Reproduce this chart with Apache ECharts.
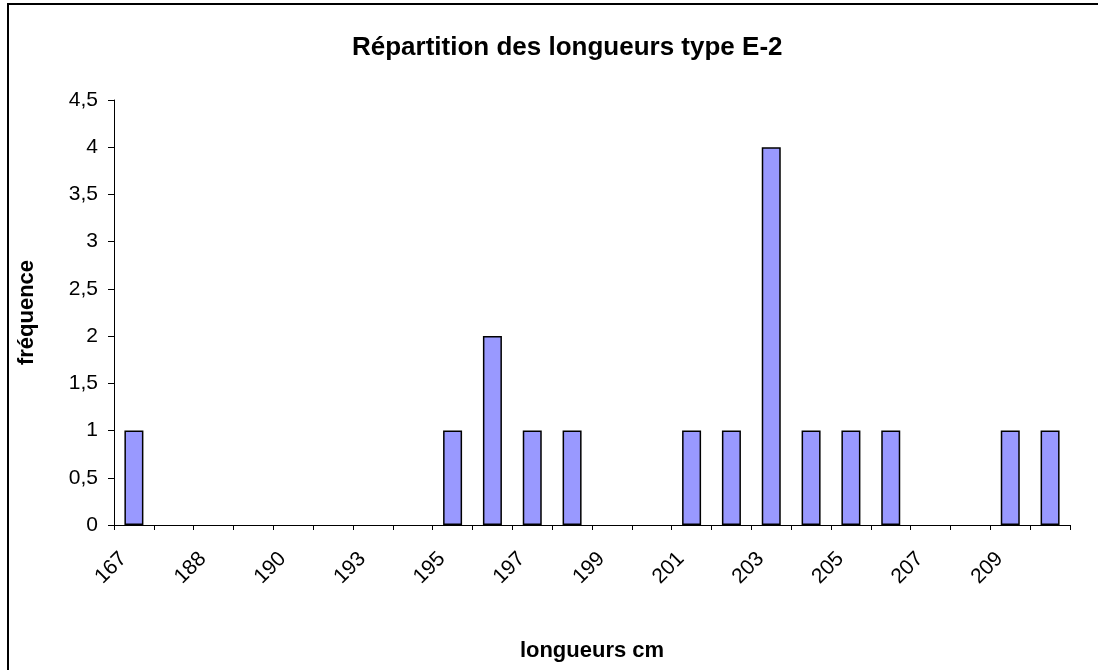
<!DOCTYPE html>
<html>
<head>
<meta charset="utf-8">
<script src="https://cdn.jsdelivr.net/npm/echarts@6/dist/echarts.min.js"></script>
<style>
  html, body { margin: 0; padding: 0; background: #fff; }
  #main { width: 1098px; height: 670px; }
</style>
</head>
<body>
<div id="main"></div>
<script>
// longueurs (cm) et fréquences
var longueurs = ["167", "187", "188", "189", "190", "192", "193", "194",
  "195", "196", "197", "198", "199", "200", "201", "202",
  "203", "204", "205", "206", "207", "208", "209", "210"];
var frequences = [1, 0, 0, 0, 0, 0, 0, 0,
  1, 2, 1, 1, 0, 0, 1, 1,
  4, 1, 1, 1, 0, 0, 1, 1];
var yTicks = { min: 0, max: 4.5, step: 0.5 };

var myChart = echarts.init(document.getElementById("main"), null, { renderer: "canvas" });
var police = "Arial, 'Liberation Sans', sans-serif";

// les zéros ne dessinent pas de barre (pas de trait sur l'axe)
var barData = frequences.map(function (v) { return v === 0 ? "-" : v; });

var option = {
  animation: false,
  title: {
    text: "Répartition des longueurs type E-2",
    left: 347,
    top: 30,
    textStyle: { fontFamily: police, fontSize: 26, fontWeight: "bold", color: "#000" },
  },
  graphic: [
    {
      type: "rect",
      shape: { x: 8, y: 4, width: 1200, height: 800 },
      style: { fill: "none", stroke: "#000", lineWidth: 2 },
    },
  ],
  grid: { left: 114, right: 28, top: 100, bottom: 145, containLabel: false },
  xAxis: {
    type: "category",
    data: longueurs,
    name: "longueurs cm",
    nameLocation: "middle",
    nameGap: 115,
    nameTextStyle: { fontFamily: police, fontSize: 22, fontWeight: "bold", color: "#000" },
    axisLine: { lineStyle: { color: "#000", width: 1 } },
    axisTick: { show: true, interval: 0, length: 5, alignWithLabel: false, lineStyle: { color: "#000" } },
    axisLabel: {
      interval: 1,
      rotate: 45,
      margin: 20,
      padding: [0, 15, 0, 0],
      fontFamily: police,
      fontSize: 21,
      color: "#000",
    },
    splitLine: { show: false },
  },
  yAxis: {
    type: "value",
    min: yTicks.min,
    max: yTicks.max,
    interval: yTicks.step,
    name: "fréquence",
    nameLocation: "middle",
    nameGap: 76,
    nameTextStyle: { fontFamily: police, fontSize: 22, fontWeight: "bold", color: "#000" },
    axisLine: { show: true, lineStyle: { color: "#000", width: 1 } },
    axisTick: { show: true, length: 6, lineStyle: { color: "#000" } },
    axisLabel: {
      margin: 16,
      fontFamily: police,
      fontSize: 21,
      color: "#000",
      formatter: function (v) { return String(v).replace(".", ","); },
    },
    splitLine: { show: false },
  },
  series: [
    {
      type: "bar",
      data: barData,
      barWidth: 19,
      itemStyle: { color: "#9999FF", borderColor: "#000", borderWidth: 1.5 },
    },
  ],
};
myChart.setOption(option);
</script>
</body>
</html>
